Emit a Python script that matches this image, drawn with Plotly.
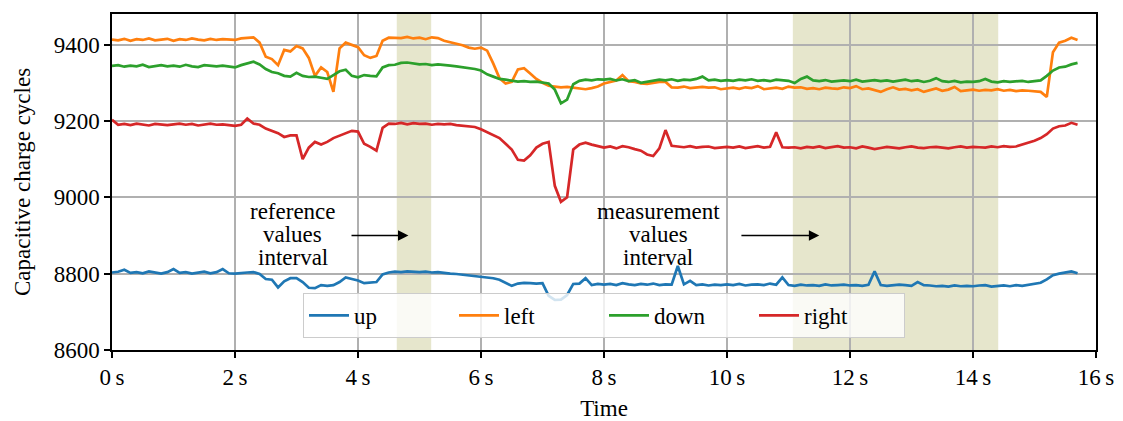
import numpy as np
import plotly.graph_objects as go

# Sample times (s), one sample every 0.1 s
time_s = np.round(np.arange(158) * 0.1, 1)

up = [
    8803, 8805, 8810, 8802, 8804, 8801, 8806, 8803, 8800, 8804,
    8812, 8802, 8804, 8800, 8803, 8805, 8801, 8804, 8812, 8801,
    8800, 8802, 8803, 8804, 8799, 8786, 8784, 8764, 8780, 8788,
    8788, 8778, 8763, 8762, 8770, 8768, 8770, 8778, 8790, 8786,
    8782, 8775, 8777, 8778, 8798, 8803, 8805, 8804, 8806, 8805,
    8804, 8805, 8803, 8804, 8801, 8800, 8799, 8797, 8796, 8795,
    8793, 8791, 8788, 8784, 8775, 8768, 8774, 8776, 8775, 8774,
    8775, 8742, 8731, 8732, 8744, 8773, 8774, 8788, 8770, 8773,
    8771, 8773, 8770, 8775, 8772, 8770, 8773, 8771, 8774, 8770,
    8772, 8771, 8820, 8772, 8781, 8770, 8772, 8769, 8771, 8770,
    8772, 8770, 8773, 8769, 8771, 8772, 8770, 8774, 8771, 8790,
    8770, 8768, 8771, 8769, 8770, 8768, 8772, 8769, 8770, 8771,
    8769, 8770, 8768, 8771, 8806, 8770, 8768, 8769, 8771, 8770,
    8768, 8778, 8770, 8769, 8767, 8768, 8766, 8769, 8767, 8768,
    8767, 8769, 8770, 8766, 8768, 8769, 8767, 8770, 8768, 8771,
    8772, 8776, 8785, 8796, 8800, 8804, 8806, 8801,
]

left = [
    9413, 9411, 9415, 9410, 9414, 9412, 9416, 9411, 9413, 9415,
    9410, 9414, 9412, 9416, 9413, 9411, 9415, 9412, 9414, 9413,
    9412, 9416, 9418, 9419, 9405, 9368, 9362, 9346, 9386, 9382,
    9396, 9390, 9365, 9318, 9340, 9328, 9276, 9390, 9405, 9400,
    9393, 9372, 9365, 9370, 9410, 9418, 9418, 9417, 9420, 9416,
    9418, 9414, 9419, 9417, 9410, 9406, 9402, 9398, 9392, 9389,
    9392, 9384, 9350, 9312, 9298, 9302, 9335, 9338, 9324, 9310,
    9300, 9292, 9290, 9288, 9289, 9287, 9284, 9283, 9286, 9290,
    9298, 9302, 9306, 9320, 9304, 9302, 9298, 9297, 9300, 9302,
    9302, 9288, 9287, 9290, 9286, 9288, 9289, 9287, 9288, 9283,
    9285, 9287, 9284, 9288, 9286, 9291, 9283, 9285, 9287, 9284,
    9290, 9287, 9288, 9284, 9286, 9283, 9287, 9285, 9284, 9288,
    9286, 9291, 9283, 9285, 9280, 9276, 9283, 9288, 9282, 9284,
    9280, 9283, 9276, 9281, 9285, 9279, 9282, 9289, 9278, 9280,
    9282, 9279, 9281, 9280, 9283, 9279, 9281, 9278, 9280, 9279,
    9278, 9276, 9263, 9380, 9405, 9410, 9418, 9412,
]

down = [
    9344, 9346, 9342, 9345, 9343, 9347, 9341, 9344, 9346, 9343,
    9345, 9342, 9347, 9343, 9341, 9346, 9344, 9343, 9345, 9342,
    9340, 9346, 9350, 9355, 9348, 9336, 9328, 9325, 9318, 9316,
    9326, 9318, 9315, 9316, 9313, 9310, 9320, 9330, 9334, 9318,
    9314, 9320, 9318, 9317, 9340, 9346, 9347, 9352, 9353, 9350,
    9348, 9349, 9346, 9348, 9347, 9345, 9343, 9341, 9338, 9336,
    9332, 9322, 9316, 9310, 9308, 9306, 9303, 9304, 9302, 9303,
    9300, 9298, 9282, 9246, 9256, 9296, 9305, 9308, 9306, 9309,
    9308, 9310, 9306, 9309, 9304, 9307, 9300, 9302, 9306, 9308,
    9306, 9309, 9305, 9308, 9307, 9310, 9316, 9306, 9308, 9305,
    9307, 9305, 9308, 9306, 9309, 9305, 9307, 9304, 9308, 9306,
    9305, 9299, 9310, 9316, 9306, 9304, 9307, 9303, 9305, 9306,
    9304, 9308, 9303, 9305, 9307, 9304, 9306, 9303, 9305, 9308,
    9304, 9306, 9302, 9305, 9312, 9304, 9302, 9305, 9301, 9303,
    9302, 9304, 9310, 9303, 9301, 9304, 9302, 9303, 9305, 9302,
    9304, 9306, 9318, 9332, 9340, 9342, 9348, 9352,
]

right = [
    9203, 9190, 9192, 9189, 9193, 9191, 9188, 9192, 9190, 9189,
    9191, 9193, 9190, 9192, 9188, 9191, 9193, 9190, 9191, 9189,
    9187, 9190, 9206, 9193, 9190, 9180, 9175, 9168, 9158, 9162,
    9162, 9100, 9130, 9145, 9138, 9145, 9155, 9162, 9169, 9174,
    9172, 9140, 9132, 9122, 9182, 9193, 9192, 9195, 9191, 9194,
    9192, 9193, 9190, 9192, 9191, 9192, 9189, 9187, 9185, 9184,
    9178, 9171, 9162, 9155, 9140, 9125, 9098, 9096, 9110, 9130,
    9140, 9145, 9030, 8988, 9000, 9125, 9138, 9143, 9138, 9133,
    9130, 9133, 9128, 9134, 9131, 9126, 9122, 9112, 9108, 9128,
    9176, 9135, 9133, 9131, 9134, 9130, 9132, 9133, 9129, 9131,
    9132, 9130, 9133, 9129, 9131, 9134, 9130, 9132, 9170, 9131,
    9130, 9131, 9128, 9132, 9130, 9133, 9129, 9131, 9134, 9130,
    9131, 9128, 9133, 9130, 9126, 9129, 9132, 9130, 9128, 9131,
    9133, 9130, 9129, 9131, 9132, 9130, 9128, 9131, 9133, 9130,
    9132, 9131, 9130, 9133, 9131, 9134, 9132, 9133, 9138, 9142,
    9148, 9155, 9165, 9180, 9186, 9188, 9195, 9190,
]

series = [("up", up, "#1f77b4"), ("left", left, "#ff7f0e"),
          ("down", down, "#2ca02c"), ("right", right, "#d62728")]

# Highlighted intervals (s)
reference_interval = (4.63, 5.19)
measurement_interval = (11.07, 14.41)

x_ticks = [0, 2, 4, 6, 8, 10, 12, 14, 16]
y_ticks = [8600, 8800, 9000, 9200, 9400]

FONT = "Liberation Serif, Times New Roman, serif"
FS = 23

fig = go.Figure()
for name, values, color in series:
    fig.add_trace(go.Scatter(x=time_s, y=values, mode="lines", name=name,
                             line=dict(color=color, width=2.7)))

for x0, x1 in (reference_interval, measurement_interval):
    fig.add_shape(type="rect", xref="x", yref="paper", x0=x0, x1=x1, y0=0, y1=1,
                  fillcolor="rgba(128,128,0,0.2)", line=dict(width=0), layer="below")

# Interval labels (three stacked lines each) with arrows pointing at the shaded regions
label_rows = [8964, 8903, 8842]
labels = [(["reference", "values", "interval"], 2.94, 3.87, 4.82),
          (["measurement", "values", "interval"], 8.88, 10.21, 11.5)]
for words, tx, a0, a1 in labels:
    for word, ty in zip(words, label_rows):
        fig.add_annotation(x=tx, y=ty, xref="x", yref="y", text=word, showarrow=False,
                           font=dict(family=FONT, size=FS, color="black"), yanchor="middle")
    fig.add_annotation(x=a1, y=8900, ax=a0, ay=8900, xref="x", yref="y",
                       axref="x", ayref="y", text="", showarrow=True,
                       arrowhead=2, arrowsize=1.3, arrowwidth=1.6, arrowcolor="black")

axis_common = dict(showline=True, linecolor="black", linewidth=1.5, mirror=True,
                   ticks="outside", ticklen=6, tickwidth=1.5, tickcolor="black",
                   showgrid=True, gridcolor="#b0b0b0", gridwidth=1.5, zeroline=False,
                   automargin=False,
                   tickfont=dict(family=FONT, size=FS, color="black"))

fig.update_xaxes(range=[0, 16], tickvals=x_ticks,
                 ticktext=[f"{v}\u2009s" for v in x_ticks],
                 title=dict(text="Time", font=dict(family=FONT, size=FS, color="black"),
                            standoff=13),
                 **axis_common)
fig.update_yaxes(range=[8600, 9480], tickvals=y_ticks,
                 title=dict(text="Capacitive charge cycles",
                            font=dict(family=FONT, size=FS, color="black"), standoff=17),
                 **axis_common)

fig.update_layout(
    width=1123, height=421,
    margin=dict(l=112, r=27, t=14, b=71),
    plot_bgcolor="white", paper_bgcolor="white",
    font=dict(family=FONT, size=FS, color="black"),
    legend=dict(orientation="h", x=0.5, xanchor="center", y=0.036, yanchor="bottom",
                bgcolor="rgba(255,255,255,0.8)", bordercolor="#cccccc", borderwidth=1,
                font=dict(family=FONT, size=FS, color="black"),
                entrywidth=95, itemwidth=40),
)

fig.write_html("out.html")
